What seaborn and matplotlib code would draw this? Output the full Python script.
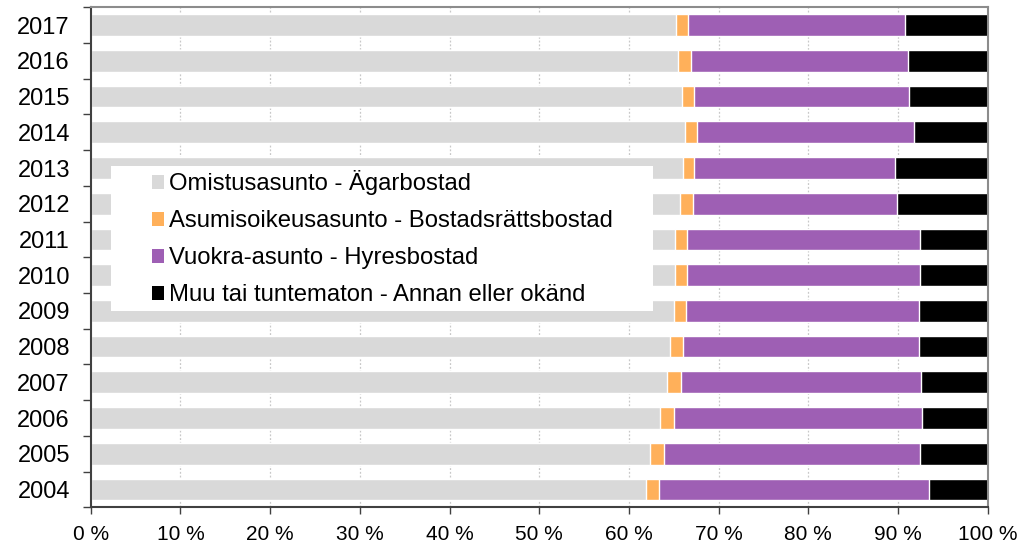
import numpy as np
import pandas as pd
import matplotlib
matplotlib.use('Agg')
import matplotlib.pyplot as plt
from matplotlib.patches import Patch, Rectangle
import seaborn as sns

# data, 2004 -> 2017 (share of dwellings, %)
years = ['2004', '2005', '2006', '2007', '2008', '2009', '2010',
         '2011', '2012', '2013', '2014', '2015', '2016', '2017']
omistus = [61.9, 62.4, 63.5, 64.3, 64.6, 65.0, 65.1, 65.1, 65.7, 66.0, 66.2, 65.9, 65.5, 65.3]
asumisoikeus = [1.4, 1.5, 1.5, 1.5, 1.4, 1.4, 1.4, 1.4, 1.4, 1.3, 1.4, 1.4, 1.4, 1.3]
vuokra = [30.2, 28.6, 27.7, 26.8, 26.3, 25.9, 25.9, 25.9, 22.8, 22.4, 24.2, 23.9, 24.2, 24.2]
muu = [6.5, 7.5, 7.3, 7.4, 7.7, 7.7, 7.6, 7.6, 10.1, 10.3, 8.2, 8.8, 8.9, 9.2]

labels = ['Omistusasunto - Ägarbostad',
          'Asumisoikeusasunto - Bostadsrättsbostad',
          'Vuokra-asunto - Hyresbostad',
          'Muu tai tuntematon - Annan eller okänd']
colors = ['#D9D9D9', '#FFB05A', '#9E5FB4', '#000000']

sns.set_style('white')
plt.rcParams['font.family'] = ['Liberation Sans', 'DejaVu Sans']
plt.rcParams['text.color'] = 'black'
plt.rcParams['xtick.labelcolor'] = 'black'
plt.rcParams['ytick.labelcolor'] = 'black'

df = pd.DataFrame({'year': years, 'omistus': omistus, 'asumis': asumisoikeus,
                   'vuokra': vuokra, 'muu': muu})
parts = ['omistus', 'asumis', 'vuokra', 'muu']
cum = df[parts].cumsum(axis=1)
cum['year'] = df['year']
order = years[::-1]

fig = plt.figure(figsize=(10.23, 5.46), dpi=100)
ax = fig.add_axes([0.0887, 0.0709, 0.8768, 0.9157])

# stacked bars: draw cumulative totals back to front
for col, c in zip(parts[::-1], colors[::-1]):
    sns.barplot(data=cum, x=col, y='year', order=order, orient='h', color=c,
                saturation=1, width=0.61, errorbar=None, ax=ax, zorder=2)

ax.set_xlim(0, 100)
ax.set_ylim(len(years) - 0.5, -0.5)
ax.set_xlabel('')
ax.set_ylabel('')
ax.set_xticks(np.arange(0, 101, 10))
ax.set_xticklabels([f'{v} %' for v in range(0, 101, 10)], fontsize=15)
ax.tick_params(axis='x', direction='out', length=5, width=1, color='#404040', pad=8, bottom=True)
ax.tick_params(axis='y', which='major', length=0, labelsize=17, pad=15)
ax.set_yticks(np.arange(-0.5, len(years), 1), minor=True)
ax.tick_params(axis='y', which='minor', direction='out', length=6, width=1, color='#404040', left=True)

for v in range(10, 100, 10):
    ax.axvline(v, color='#C8C8C8', lw=0.9, ls=(0, (1.5, 1.5)), zorder=0)

for s in ['left', 'bottom']:
    ax.spines[s].set_color('#404040')
    ax.spines[s].set_linewidth(1.5)
for s in ['top', 'right']:
    ax.spines[s].set_color('#8C8C8C')
    ax.spines[s].set_linewidth(1.5)

# white legend box
ax.add_patch(Rectangle((0.0223, 0.393), 0.605, 0.290, transform=ax.transAxes,
                       facecolor='white', edgecolor='none', zorder=4))
handles = [Patch(facecolor=c, edgecolor='none') for c in colors]
leg = ax.legend(handles, labels, loc='upper left', bbox_to_anchor=(0.068, 0.674),
                frameon=False, fontsize=17.2, handlelength=0.51, handleheight=0.51,
                handletextpad=0.21, labelspacing=0.63, borderpad=0, borderaxespad=0)
leg.set_zorder(5)

fig.savefig('out.png', dpi=100)
